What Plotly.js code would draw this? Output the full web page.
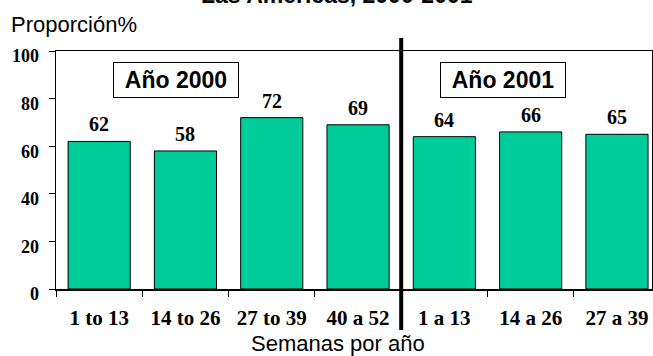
<!DOCTYPE html>
<html>
<head>
<meta charset="utf-8">
<script src="https://cdn.plot.ly/plotly-3.0.1.min.js"></script>
<style>
  html, body { margin: 0; padding: 0; background: #ffffff; }
  #chart { width: 653px; height: 356px; }
</style>
</head>
<body>
<div id="chart"></div>
<script>
// Weekly periods (two years) and the share reported in each
const periods = ['1 to 13', '14 to 26', '27 to 39', '40 a 52', '1 a 13', '14 a 26', '27 a 39'];
const shares = [62, 58, 72, 69, 64, 66, 65];
const yTicks = [0, 20, 40, 60, 80, 100];
const yearLabels = ['Año 2000', 'Año 2001'];

const serifBold = 'Liberation Serif, Times New Roman, serif';
const sans = 'Liberation Sans, Arial, sans-serif';

const bars = {
  type: 'bar',
  x: periods,
  y: shares,
  width: 0.72,
  marker: { color: '#00CC99', line: { color: '#000000', width: 1 } },
  hoverinfo: 'x+y'
};

// value labels sitting on top of each bar
const valueNotes = periods.map((p, i) => ({
  x: p, y: shares[i], xref: 'x', yref: 'y',
  text: '<b>' + shares[i] + '</b>',
  showarrow: false, yanchor: 'bottom', yshift: 4,
  font: { family: serifBold, size: 20, color: '#000' }
}));

// boxed year captions
const yearNotes = [
  { x: 0.896, text: yearLabels[0] },
  { x: 4.679, text: yearLabels[1] }
].map(a => ({
  x: a.x, y: 87.8, xref: 'x', yref: 'y',
  text: '<b>' + a.text + '</b>',
  showarrow: false, xanchor: 'center', yanchor: 'middle',
  width: 120, height: 30, borderpad: 2,
  bordercolor: '#000', borderwidth: 1, bgcolor: '#ffffff',
  font: { family: sans, size: 23, color: '#000' }
}));

const textNotes = [
  { x: 0.4715, y: 1.235, xanchor: 'center', yanchor: 'middle',
    text: '<b>Las Américas, 2000-2001</b>', font: { family: sans, size: 23, color: '#000' } },
  { x: -0.079, y: 1.111, xanchor: 'left', yanchor: 'middle',
    text: 'Proporción%', font: { family: sans, size: 22, color: '#000' } },
  { x: 0.4738, y: -0.2298, xanchor: 'center', yanchor: 'middle',
    text: 'Semanas por año', font: { family: sans, size: 22, color: '#000' } }
].map(a => Object.assign({ xref: 'paper', yref: 'paper', showarrow: false }, a));

const layout = {
  width: 653, height: 356,
  margin: { l: 56, r: 1, t: 51, b: 67, pad: 0 },
  paper_bgcolor: '#ffffff', plot_bgcolor: '#ffffff',
  showlegend: false,
  xaxis: {
    type: 'category',
    range: [-0.5, 6.406],
    tickson: 'boundaries',
    ticks: 'outside', ticklen: 6, tickcolor: '#000', tickwidth: 1,
    showline: true, linecolor: '#000', linewidth: 1.5, mirror: true,
    showgrid: false, zeroline: false,
    tickfont: { family: serifBold, size: 21, color: '#000' },
    tickprefix: '<b>', ticksuffix: '</b>',
    ticklabelstandoff: 9,
    fixedrange: true
  },
  yaxis: {
    range: [0, 100],
    tickvals: yTicks,
    ticktext: yTicks.map(v => '<b>' + v + '</b>'),
    ticks: 'outside', ticklen: 6, tickcolor: '#000', tickwidth: 1,
    showline: true, linecolor: '#000', linewidth: 1.5, mirror: true,
    showgrid: false, zeroline: false,
    tickfont: { family: serifBold, size: 18, color: '#000' },
    ticklabelshift: 5,
    ticklabelstandoff: 6,
    fixedrange: true
  },
  shapes: [
    // heavy divider between the two years
    { type: 'line', xref: 'x', yref: 'paper', x0: 3.5, x1: 3.5, y0: -0.172, y1: 1.0546,
      line: { color: '#000', width: 4 } }
  ],
  annotations: valueNotes.concat(yearNotes, textNotes)
};

Plotly.newPlot('chart', [bars], layout, { displayModeBar: false, staticPlot: true });
</script>
</body>
</html>
